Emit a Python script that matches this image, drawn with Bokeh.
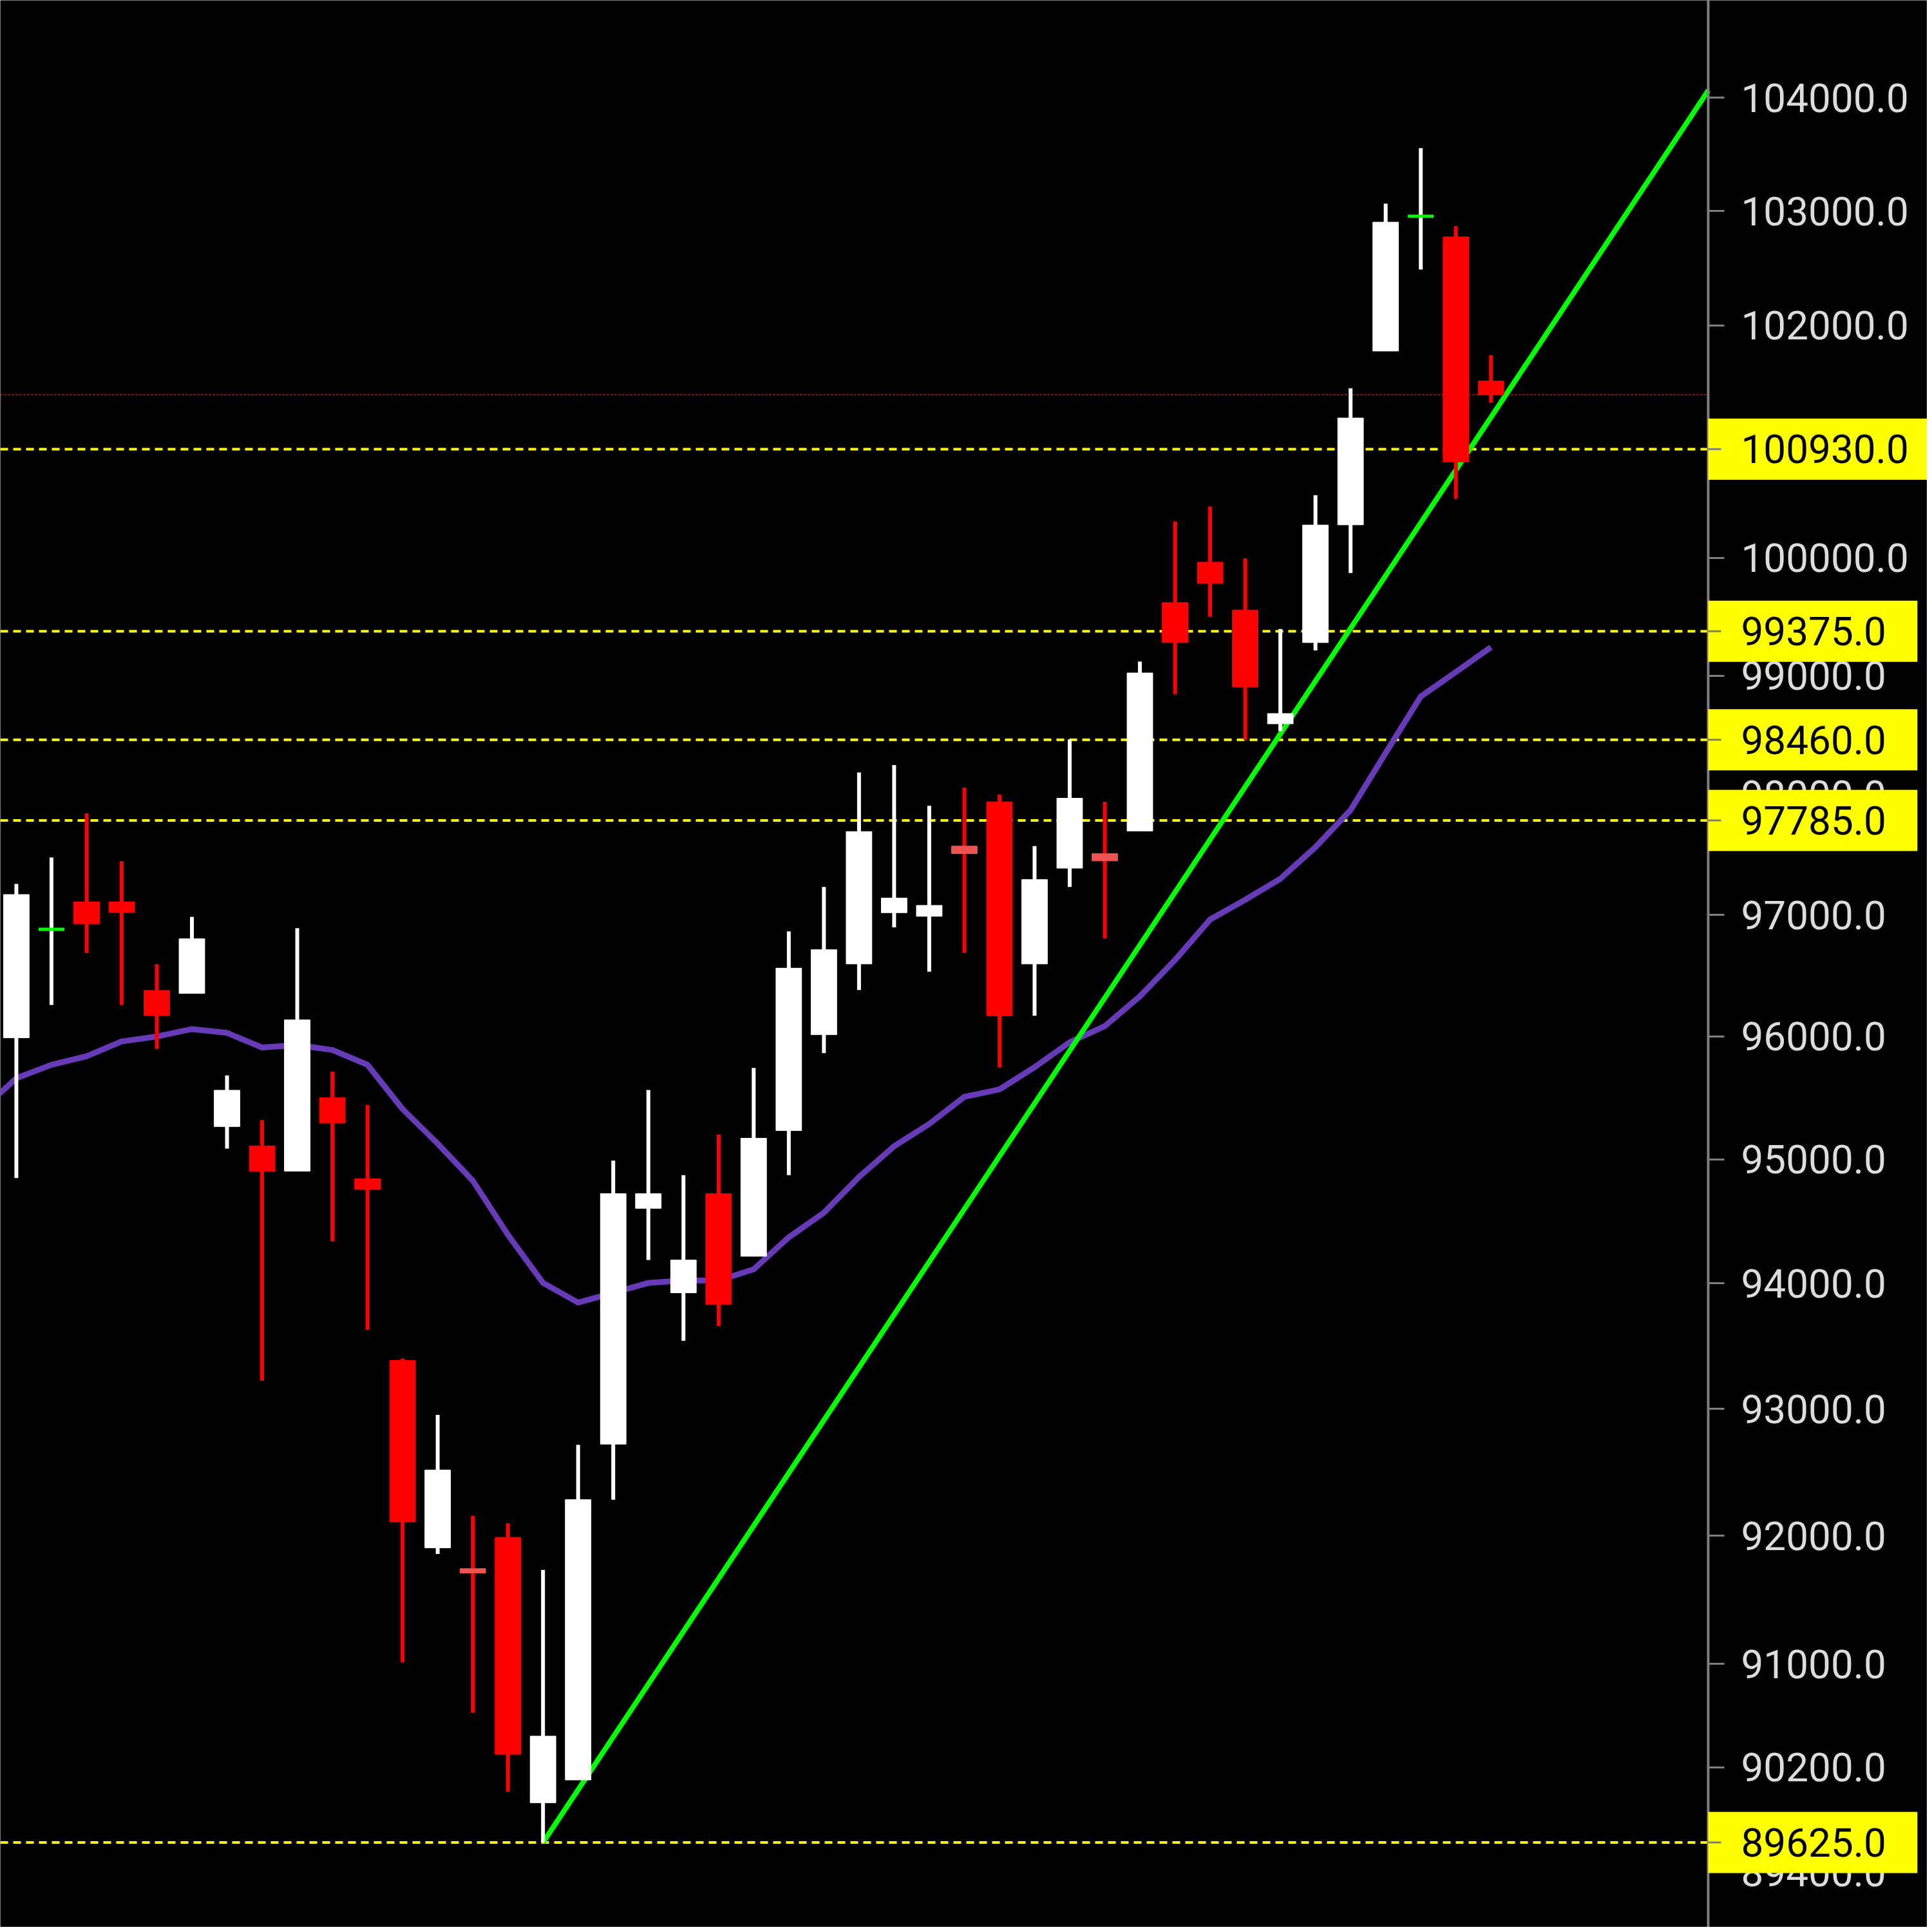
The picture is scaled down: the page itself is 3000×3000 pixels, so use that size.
from bokeh.plotting import figure
from bokeh.models import Range1d, FixedTicker, PrintfTickFormatter
from bokeh.core.properties import value
from bokeh.embed import file_html
from bokeh.resources import INLINE

# ---------------- data ----------------
opens = [95990, 96881, 97108, 97108, 96378, 96354, 95266, 95109, 94904, 95500,
         94843, 93385, 91905, 91742, 91987, 89929, 90104, 92721, 94604, 93925,
         94722, 94218, 95233, 96015, 96596, 97019, 96989, 97571, 97940, 96596,
         97388, 97509, 97697, 99618, 99962, 99555, 98594, 99279, 100281, 101778,
         102954, 102773, 101518]
highs = [97257, 97476, 97844, 97446, 96593, 96984, 95682, 95318, 96891, 95713,
         95442, 93400, 92953, 92156, 92098, 91732, 92715, 94989, 95563, 94872,
         95199, 95743, 96864, 97232, 98186, 98247, 97907, 98059, 98001, 97571,
         98462, 97940, 99118, 100310, 100437, 99994, 99394, 100534, 101454, 103064,
         103554, 102868, 101742]
lows = [94849, 96259, 96686, 96259, 95898, 96354, 95087, 93223, 94904, 94341,
        93630, 91012, 91857, 90622, 90013, 89625, 90104, 92283, 94188, 93542,
        93660, 94218, 94872, 95864, 96382, 96898, 96533, 96687, 95747, 96170,
        97232, 96807, 97697, 98842, 99498, 98460, 98532, 99212, 99870, 101778,
        102487, 100504, 101330]
closes = [97169, 96881, 96928, 97022, 96172, 96803, 95561, 94904, 96136, 95294,
          94758, 92108, 92516, 91708, 90301, 90441, 92283, 94723, 94722, 94188,
          93831, 95171, 96561, 96713, 97692, 97140, 97079, 97509, 96170, 97293,
          97970, 97448, 99022, 99279, 99781, 98904, 98680, 100279, 101198, 102902,
          102954, 100820, 101399]

# moving average, bar index -1 .. 42
ma_index = list(range(-1, 43))
ma_values = [95398, 95659, 95769, 95839, 95960, 96000, 96061, 96030, 95910, 95930,
             95890, 95769, 95408, 95127, 94827, 94391, 94004, 93847, 93925, 94004,
             94024, 94024, 94113, 94371, 94569, 94857, 95106, 95287, 95508, 95568,
             95749, 95953, 96085, 96330, 96628, 96963, 97126, 97300, 97563, 97871,
             98349, 98824, 99031, 99240]

levels = [100930, 99375, 98460, 97785, 89625]
level_labels = ["100930.0", "99375.0", "98460.0", "97785.0", "89625.0"]
trend_x = [15, 48.19]
trend_y = [89625, 104065]
tick_values = [104000, 103000, 102000, 100000, 99000, 98000, 97000, 96000,
               95000, 94000, 93000, 92000, 91000, 90200, 89400]

# ---------------- layout / styling ----------------
PX_PER_BAR = 54.52
X_START = -24.9 / PX_PER_BAR
AXIS_X = (2652 - 24.9) / PX_PER_BAR
X_END = (2992 - 24.9) / PX_PER_BAR
Y_START, Y_END = 88980, 104867
FONT = "Roboto"
FSIZE = "62px"
AXIS_GRAY = "#7f7f7f"

idx = list(range(len(opens)))
body_top, body_bot, body_col, wick_col = [], [], [], []
doji_x, doji_y = [], []
for o, c in zip(opens, closes):
    body_top.append(max(o, c))
    body_bot.append(min(o, c))
    if c > o:
        body_col.append("#ffffff"); wick_col.append("#ffffff")
    elif c == o:
        body_col.append("#00ff00"); wick_col.append("#ffffff")
    elif o - c < 70:
        body_col.append("#ef5350"); wick_col.append("#ff0000")
    else:
        body_col.append("#ff0000"); wick_col.append("#ff0000")
for i, (o, c) in enumerate(zip(opens, closes)):
    if o == c:
        doji_x.append(i); doji_y.append(o)

p = figure(width=2992, height=2992, output_backend="svg", toolbar_location=None,
           y_axis_type="log", y_axis_location="right", x_axis_location=None,
           x_range=Range1d(X_START, X_END), y_range=Range1d(Y_START, Y_END),
           background_fill_color="#000000", border_fill_color="#000000",
           min_border_left=0, min_border_top=0, min_border_bottom=0,
           min_border_right=0)
p.outline_line_color = None
p.grid.visible = False

ax = p.yaxis[0]
ax.fixed_location = AXIS_X
ax.ticker = FixedTicker(ticks=tick_values, minor_ticks=[])
ax.formatter = PrintfTickFormatter(format="%.1f")
ax.axis_line_color = AXIS_GRAY
ax.axis_line_width = 4
ax.major_tick_line_color = AXIS_GRAY
ax.major_tick_line_width = 3
ax.major_tick_out = 25
ax.major_tick_in = 0
ax.minor_tick_line_color = None
ax.major_label_text_color = "#dcdcdc"
ax.major_label_text_font = FONT
ax.major_label_text_font_size = FSIZE
ax.major_label_standoff = 26

n = len(levels)
# horizontal level lines (stop at the price axis)
p.segment(x0=[X_START] * n, y0=levels, x1=[AXIS_X] * n, y1=levels,
          line_color="#ffff00", line_width=4, line_dash="12 8")
p.segment(x0=[X_START], y0=[closes[-1]], x1=[AXIS_X], y1=[closes[-1]],
          line_color="#a01818", line_width=2, line_dash="3 3")

p.line(ma_index, ma_values, line_color="#673ab7", line_width=9, line_join="round")
p.line(trend_x, trend_y, line_color="#00ff00", line_width=8)

p.segment(x0=idx, y0=lows, x1=idx, y1=highs, line_color=wick_col, line_width=6)
p.vbar(x=idx, width=0.73, top=body_top, bottom=body_bot,
       fill_color=body_col, line_color=body_col, line_width=1)
p.scatter(doji_x, doji_y, marker="dash", size=40, line_color="#00ff00", line_width=5)

# price-level tags on the axis
box_w = [100 + 34.8 * (len(t) - 1) + 16 for t in level_labels]
box_x = [AXIS_X + (w / 2) / PX_PER_BAR for w in box_w]
tag_lvl = p.rect(x=box_x, y=levels, width=box_w, height=95,
                 width_units="screen", height_units="screen",
                 fill_color="#ffff00", line_color=None)
tag_lvl.level = "annotation"
tick_r = p.segment(x0=[AXIS_X] * n, y0=levels, x1=[AXIS_X + 20 / PX_PER_BAR] * n,
                   y1=levels, line_color=AXIS_GRAY, line_width=3)
tick_r.level = "annotation"
txt = p.text(x=[AXIS_X + 51 / PX_PER_BAR] * n, y=levels, text=level_labels,
             text_font=value(FONT), text_font_size=FSIZE, text_color="#000000",
             text_align="left", text_baseline="middle")
txt.level = "annotation"

open("out.html", "w").write(file_html(p, INLINE))
